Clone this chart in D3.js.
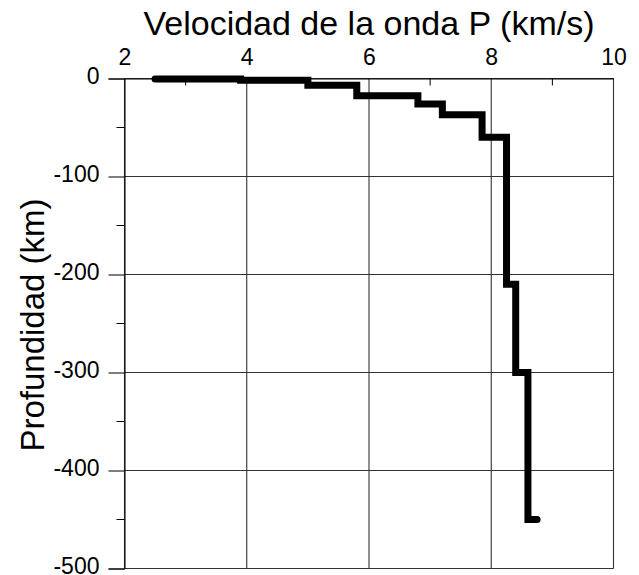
<!DOCTYPE html>
<html>
<head>
<meta charset="utf-8">
<script src="https://cdn.jsdelivr.net/npm/d3@7"></script>
<style>
  body { margin: 0; background: #fff; }
  svg { display: block; font-family: "Liberation Sans", Arial, sans-serif; }
</style>
</head>
<body>
<div id="chart"></div>
<script>
// step profile: velocity of each segment and the depth where it ends
var velocity = [2.5, 3.9, 5.0, 5.8, 6.8, 7.2, 7.85, 8.25, 8.4, 8.6, 8.75];
var depth = [-0.5, -1.8, -7, -17.5, -26, -37, -60, -210, -300, -450, -450];

var xTicks = [2, 4, 6, 8, 10];
var xMinor = [3, 5, 7, 9];
var yTicks = [0, -100, -200, -300, -400, -500];
var yMinor = [-50, -150, -250, -350, -450];

var svgWidth = 639, svgHeight = 575;
var margin = { top: 78.5, right: 25.5, bottom: 6.5, left: 124.5 };
var width = svgWidth - margin.left - margin.right;
var height = svgHeight - margin.top - margin.bottom;

var svg = d3.select('#chart').append('svg')
  .attr('width', svgWidth)
  .attr('height', svgHeight);

var xScale = d3.scaleLinear().domain([2, 10]).range([0, width]);
var yScale = d3.scaleLinear().domain([0, -500]).range([0, height]);

var g = svg.append('g')
  .attr('transform', 'translate(' + margin.left + ',' + margin.top + ')');

// grid
g.append('g').selectAll('line')
  .data(xTicks)
  .enter().append('line')
  .attr('x1', function (d) { return xScale(d); })
  .attr('x2', function (d) { return xScale(d); })
  .attr('y1', 0).attr('y2', height)
  .attr('stroke', '#333').attr('stroke-width', 1.1);

g.append('g').selectAll('line')
  .data(yTicks)
  .enter().append('line')
  .attr('x1', 0).attr('x2', width)
  .attr('y1', function (d) { return yScale(d); })
  .attr('y2', function (d) { return yScale(d); })
  .attr('stroke', '#333').attr('stroke-width', 1.1);

// axis-x (top, ticks inward)
var xAxis = g.append('g')
  .attr('class', 'axis axis--x')
  .call(d3.axisTop(xScale).tickValues(xTicks).tickSize(0).tickPadding(14));
xAxis.select('.domain').attr('stroke', '#000');
xAxis.selectAll('text')
  .attr('font-size', '23px')
  .attr('fill', '#000')
  .attr('font-family', '"Liberation Sans", Arial, sans-serif');

g.append('g').selectAll('line')
  .data(xMinor)
  .enter().append('line')
  .attr('x1', function (d) { return xScale(d); })
  .attr('x2', function (d) { return xScale(d); })
  .attr('y1', 0).attr('y2', 7)
  .attr('stroke', '#000');

// axis-y (left, ticks outward)
var yAxis = g.append('g')
  .attr('class', 'axis axis--y')
  .call(d3.axisLeft(yScale).tickValues(yTicks).tickSize(16).tickPadding(9)
    .tickFormat(function (d) { return d3.format('d')(d).replace('−', '-'); }));
yAxis.select('.domain').attr('stroke', '#000');
yAxis.selectAll('.tick line').attr('stroke', '#000');
yAxis.selectAll('text')
  .attr('font-size', '23px')
  .attr('dy', '0.2em')
  .attr('fill', '#000')
  .attr('font-family', '"Liberation Sans", Arial, sans-serif');

g.append('g').selectAll('line')
  .data(yMinor)
  .enter().append('line')
  .attr('x1', -8).attr('x2', 0)
  .attr('y1', function (d) { return yScale(d); })
  .attr('y2', function (d) { return yScale(d); })
  .attr('stroke', '#000');

// velocity profile
var points = velocity.map(function (v, i) { return [v, depth[i]]; });
var line = d3.line()
  .x(function (d) { return xScale(d[0]); })
  .y(function (d) { return yScale(d[1]); })
  .curve(d3.curveStepAfter);

g.append('path')
  .attr('d', line(points))
  .attr('fill', 'none')
  .attr('stroke', '#000')
  .attr('stroke-width', 7)
  .attr('stroke-linecap', 'round')
  .attr('stroke-linejoin', 'miter');

// titles
svg.append('text')
  .attr('x', margin.left + width / 2)
  .attr('y', 35)
  .attr('text-anchor', 'middle')
  .attr('font-size', '34px')
  .text('Velocidad de la onda P (km/s)');

svg.append('text')
  .attr('transform', 'translate(44,' + 325 + ') rotate(-90)')
  .attr('text-anchor', 'middle')
  .attr('font-size', '33px')
  .text('Profundidad (km)');
</script>
</body>
</html>
